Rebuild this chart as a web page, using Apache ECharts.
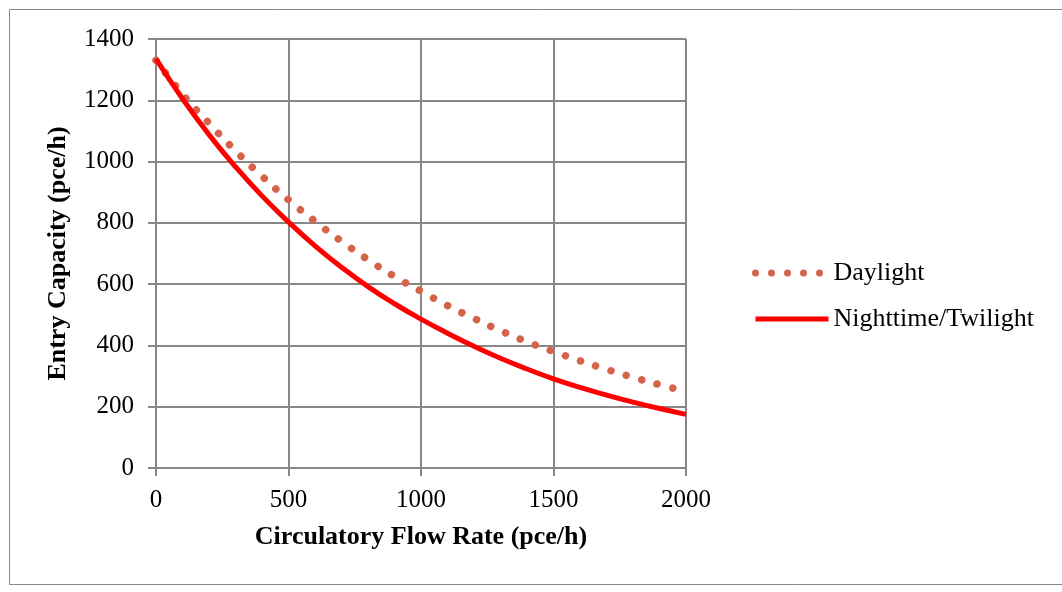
<!DOCTYPE html>
<html>
<head>
<meta charset="utf-8">
<script src="https://cdn.jsdelivr.net/npm/echarts@6/dist/echarts.min.js"></script>
<style>
  html, body { margin: 0; padding: 0; background: #fff; }
  #myChart { width: 1062px; height: 592px; }
</style>
</head>
<body>
<div id="myChart"></div>
<script>
// circulatory flow (pce/h)
var flowRates = [0, 100, 200, 300, 400, 500, 600, 700, 800, 900, 1000,
    1100, 1200, 1300, 1400, 1500, 1600, 1700, 1800, 1900, 2000];
// entry capacity (pce/h)
var daylight = [1330, 1220, 1125, 1035, 952, 875, 805, 740, 680, 625, 577,
    530, 488, 448, 412, 380, 350, 322, 296, 272, 250];
var nighttime = [1335, 1205, 1088, 983, 888, 803, 725, 655, 592, 536, 486,
    440, 397, 358, 323, 291, 263, 238, 215, 194, 175];

function pairs(xs, ys) {
    return xs.map(function (x, i) { return [x, ys[i]]; });
}

var myChart = echarts.init(document.getElementById('myChart'));
var serif = 'Liberation Serif';
var grey = '#878787';
var dayColor = '#d5634a';
var nightColor = '#ff0000';

myChart.setOption({
    animation: false,
    textStyle: { fontFamily: serif },
    graphic: [{
        type: 'rect',
        shape: { x: 9.5, y: 9.5, width: 1100, height: 575 },
        style: { fill: 'none', stroke: grey, lineWidth: 1 },
        silent: true
    }],
    grid: { left: 156, right: 376, top: 39, bottom: 124 },
    legend: {
        orient: 'vertical',
        left: 752,
        top: 260,
        padding: 0,
        itemWidth: 73,
        itemHeight: 14,
        itemGap: 20,
        itemStyle: { opacity: 0 },
        textStyle: { fontFamily: serif, fontSize: 26, color: '#000' },
        data: [
            { name: 'Daylight', lineStyle: { width: 7 } },
            { name: 'Nighttime/Twilight', lineStyle: { width: 5 } }
        ]
    },
    xAxis: {
        type: 'value',
        min: 0,
        max: 2000,
        interval: 500,
        name: 'Circulatory Flow Rate (pce/h)',
        nameLocation: 'middle',
        nameGap: 56,
        nameTextStyle: { fontFamily: serif, fontSize: 26, fontWeight: 'bold', color: '#000' },
        axisLine: { lineStyle: { color: grey, width: 2 } },
        axisTick: { show: true, length: 8, lineStyle: { color: grey, width: 2 } },
        axisLabel: {
            fontFamily: serif, fontSize: 25, color: '#000', margin: 20,
            formatter: function (v) { return String(v); }
        },
        splitLine: { show: true, lineStyle: { color: grey, width: 2 } }
    },
    yAxis: {
        type: 'value',
        min: 0,
        max: 1400,
        interval: 200,
        name: 'Entry Capacity (pce/h)',
        nameLocation: 'middle',
        nameGap: 85,
        nameTextStyle: { fontFamily: serif, fontSize: 26, fontWeight: 'bold', color: '#000' },
        axisLine: { show: true, lineStyle: { color: grey, width: 2 } },
        axisTick: { show: true, length: 8, lineStyle: { color: grey, width: 2 } },
        axisLabel: {
            fontFamily: serif, fontSize: 25, color: '#000', margin: 22,
            formatter: function (v) { return String(v); }
        },
        splitLine: { show: true, lineStyle: { color: grey, width: 2 } }
    },
    series: [
        {
            name: 'Daylight',
            type: 'line',
            smooth: true,
            symbol: 'none',
            data: pairs(flowRates, daylight),
            itemStyle: { color: dayColor },
            lineStyle: { color: dayColor, width: 7.5, type: [0.01, 16], cap: 'round' }
        },
        {
            name: 'Nighttime/Twilight',
            type: 'line',
            smooth: true,
            symbol: 'none',
            data: pairs(flowRates, nighttime),
            itemStyle: { color: nightColor },
            lineStyle: { color: nightColor, width: 5 }
        }
    ]
});
</script>
</body>
</html>
